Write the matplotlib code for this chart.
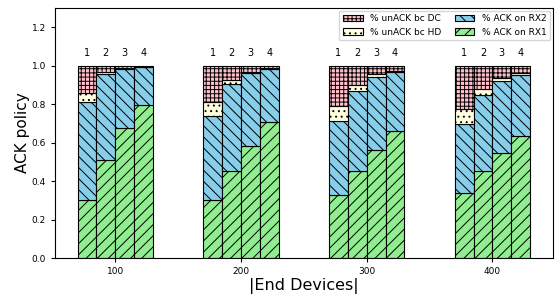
import numpy as np
import matplotlib
matplotlib.use("Agg")
import matplotlib.pyplot as plt

# number of end devices
devices = [100, 200, 300, 400]
configs = ["1", "2", "3", "4"]

# fractions per config (rows = device count, cols = config 1..4)
ack_rx1 = [[0.300, 0.510, 0.675, 0.795],
           [0.300, 0.455, 0.585, 0.705],
           [0.328, 0.453, 0.562, 0.663],
           [0.337, 0.453, 0.545, 0.635]]
ack_rx2 = [[0.510, 0.445, 0.310, 0.200],
           [0.440, 0.450, 0.377, 0.278],
           [0.385, 0.417, 0.379, 0.304],
           [0.359, 0.396, 0.373, 0.318]]
unack_hd = [[0.050, 0.010, 0.005, 0.000],
            [0.070, 0.022, 0.007, 0.004],
            [0.080, 0.031, 0.014, 0.008],
            [0.080, 0.031, 0.018, 0.009]]
unack_dc = [[0.140, 0.035, 0.010, 0.005],
            [0.190, 0.073, 0.031, 0.013],
            [0.207, 0.099, 0.045, 0.025],
            [0.224, 0.120, 0.064, 0.038]]

plt.rcParams['hatch.linewidth'] = 0.7
fig = plt.figure(figsize=(5.55, 2.95), dpi=100)
ax = fig.add_axes([0.099, 0.125, 0.897, 0.848])

w = 15
offsets = [-22.5, -7.5, 7.5, 22.5]
rx1 = np.array(ack_rx1)
rx2 = np.array(ack_rx2)
hd = np.array(unack_hd)
dc = np.array(unack_dc)

for j in range(4):
    x = np.array(devices) + offsets[j]
    kw = dict(width=w, edgecolor='black', linewidth=0.8)
    ax.bar(x, rx1[:, j], color='lightgreen', hatch='///',
           label='% ACK on RX1' if j == 0 else None, **kw)
    ax.bar(x, rx2[:, j], bottom=rx1[:, j], color='skyblue', hatch='\\\\\\',
           label='% ACK on RX2' if j == 0 else None, **kw)
    ax.bar(x, hd[:, j], bottom=rx1[:, j] + rx2[:, j], color='lightyellow', hatch='...',
           label='% unACK bc HD' if j == 0 else None, **kw)
    ax.bar(x, dc[:, j], bottom=rx1[:, j] + rx2[:, j] + hd[:, j], color='pink', hatch='++++',
           label='% unACK bc DC' if j == 0 else None, **kw)
    for xi in x:
        ax.text(xi, 1.04, configs[j], ha='center', va='bottom', fontsize=7)

ax.set_ylim(0, 1.3)
ax.set_xticks(devices)
ax.tick_params(labelsize=6.5, width=0.8, length=3)
ax.set_xlabel('|End Devices|', fontsize=11.5, labelpad=1)
ax.set_ylabel('ACK policy', fontsize=11, labelpad=1)
for s in ax.spines.values():
    s.set_linewidth(0.8)

h, l = ax.get_legend_handles_labels()
ax.legend(h[::-1], l[::-1], ncol=2, loc='upper right', fontsize=6.5,
          handlelength=2.2, columnspacing=1.5, borderaxespad=0.3)

fig.savefig('out.png', dpi=100)
